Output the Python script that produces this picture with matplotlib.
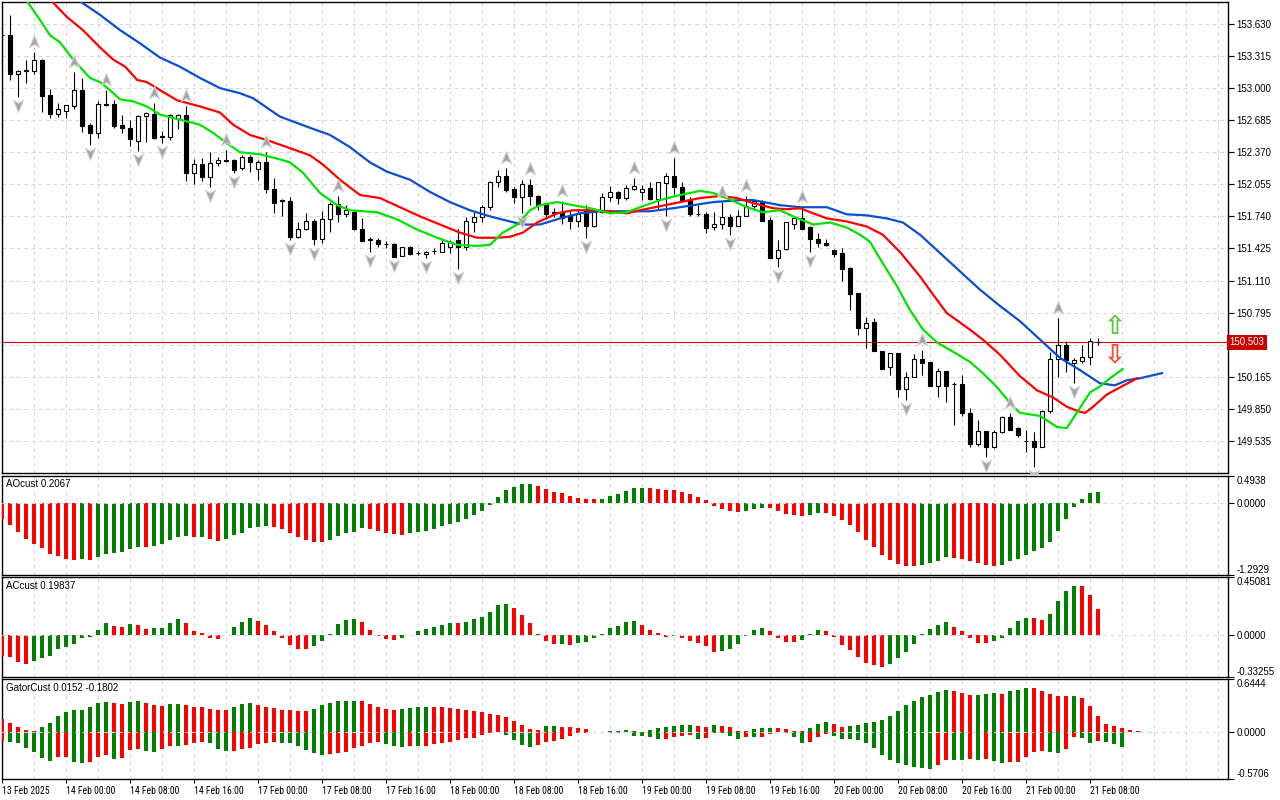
import numpy as np
import matplotlib.pyplot as plt
from matplotlib import font_manager
from matplotlib.path import Path
from matplotlib.transforms import offset_copy, blended_transform_factory

plt.rcParams['font.family'] = ['Liberation Sans', 'DejaVu Sans']

# ---- chart data (H1 bars, first one is partly hidden at the left edge) ----
first_bar = -1
opens = [153.52, 153.52, 153.14, 153.18, 153.17, 153.28, 152.93, 152.75, 152.78, 152.82,
         152.98, 152.64, 152.56, 152.84, 152.84, 152.64, 152.61, 152.48, 152.73, 152.75,
         152.53, 152.52, 152.70, 152.74, 152.17, 152.25, 152.13, 152.26, 152.29, 152.29,
         152.22, 152.32, 152.21, 152.27, 152.01, 151.90, 151.89, 151.54, 151.62, 151.69,
         151.52, 151.71, 151.86, 151.76, 151.78, 151.62, 151.51, 151.51, 151.47, 151.47,
         151.35, 151.44, 151.38, 151.37, 151.40, 151.39, 151.44, 151.51, 151.44, 151.68,
         151.73, 151.83, 152.08, 152.14, 152.01, 151.93, 152.05, 151.94, 151.86, 151.77,
         151.77, 151.74, 151.69, 151.80, 151.65, 151.78, 151.93, 151.98, 151.92, 152.01,
         151.98, 152.02, 151.91, 152.07, 152.14, 152.03, 151.90, 151.76, 151.76, 151.64,
         151.67, 151.73, 151.65, 151.74, 151.84, 151.89, 151.70, 151.33, 151.42, 151.67,
         151.72, 151.64, 151.52, 151.48, 151.41, 151.38, 151.23, 150.99, 150.64, 150.70,
         150.42, 150.26, 150.40, 150.04, 150.16, 150.34, 150.31, 150.07, 150.22, 150.09,
         150.09, 149.81, 149.50, 149.63, 149.47, 149.62, 149.77, 149.66, 149.53, 149.53,
         149.47, 149.83, 150.34, 150.48, 150.30, 150.32, 150.36, 150.51]
highs = [153.56, 153.72, 153.18, 153.28, 153.35, 153.29, 152.99, 152.85, 152.83, 153.16,
         153.10, 152.66, 152.87, 152.98, 152.88, 152.74, 152.69, 152.74, 152.77, 152.85,
         152.58, 152.75, 152.75, 152.82, 152.30, 152.31, 152.37, 152.32, 152.39, 152.30,
         152.34, 152.34, 152.29, 152.37, 152.12, 151.91, 151.93, 151.68, 151.77, 151.71,
         151.79, 151.88, 151.94, 151.85, 151.80, 151.72, 151.54, 151.53, 151.50, 151.48,
         151.44, 151.45, 151.40, 151.40, 151.43, 151.53, 151.51, 151.62, 151.73, 151.78,
         151.85, 152.09, 152.20, 152.22, 152.03, 152.10, 152.11, 151.95, 151.87, 151.82,
         151.89, 151.80, 151.80, 151.85, 151.82, 151.97, 152.04, 151.99, 152.05, 152.12,
         152.05, 152.08, 152.08, 152.17, 152.31, 152.08, 151.93, 151.85, 151.78, 151.78,
         151.88, 151.76, 151.80, 151.94, 151.90, 151.90, 151.73, 151.51, 151.68, 151.74,
         151.83, 151.65, 151.58, 151.52, 151.42, 151.43, 151.24, 150.99, 150.75, 150.74,
         150.42, 150.40, 150.40, 150.21, 150.39, 150.43, 150.31, 150.25, 150.22, 150.11,
         150.18, 149.86, 149.74, 149.63, 149.64, 149.78, 149.81, 149.67, 149.64, 149.62,
         149.84, 150.41, 150.74, 150.52, 150.35, 150.48, 150.55, 150.55]
lows = [153.47, 153.08, 152.91, 153.05, 153.14, 152.77, 152.71, 152.72, 152.71, 152.79,
        152.57, 152.44, 152.51, 152.82, 152.61, 152.56, 152.43, 152.38, 152.47, 152.50,
        152.46, 152.49, 152.60, 152.09, 152.06, 152.09, 152.03, 152.23, 152.27, 152.17,
        152.20, 152.18, 152.10, 151.97, 151.77, 151.74, 151.51, 151.53, 151.61, 151.46,
        151.48, 151.59, 151.68, 151.73, 151.61, 151.50, 151.39, 151.44, 151.43, 151.34,
        151.35, 151.36, 151.36, 151.33, 151.37, 151.39, 151.38, 151.22, 151.41, 151.59,
        151.68, 151.80, 152.03, 151.98, 151.87, 151.77, 151.85, 151.80, 151.71, 151.73,
        151.67, 151.62, 151.64, 151.53, 151.64, 151.77, 151.89, 151.86, 151.90, 152.00,
        151.90, 151.90, 151.80, 151.74, 151.96, 151.89, 151.74, 151.74, 151.58, 151.61,
        151.62, 151.56, 151.65, 151.74, 151.80, 151.69, 151.33, 151.24, 151.41, 151.62,
        151.62, 151.39, 151.44, 151.45, 151.34, 151.11, 150.82, 150.57, 150.45, 150.42,
        150.24, 150.18, 149.97, 149.94, 150.16, 150.18, 150.07, 149.97, 149.92, 149.69,
        149.78, 149.47, 149.48, 149.38, 149.46, 149.61, 149.64, 149.57, 149.43, 149.28,
        149.47, 149.81, 150.16, 150.21, 150.10, 150.30, 150.28, 150.48]
closes = [153.52, 153.14, 153.17, 153.17, 153.28, 152.92, 152.75, 152.79, 152.83, 152.98,
          152.63, 152.56, 152.84, 152.83, 152.63, 152.61, 152.50, 152.73, 152.76, 152.51,
          152.52, 152.74, 152.74, 152.17, 152.25, 152.13, 152.26, 152.29, 152.28, 152.20,
          152.32, 152.27, 152.27, 152.01, 151.87, 151.89, 151.54, 151.62, 151.69, 151.52,
          151.71, 151.86, 151.76, 151.80, 151.62, 151.50, 151.51, 151.47, 151.47, 151.34,
          151.44, 151.37, 151.38, 151.39, 151.40, 151.48, 151.49, 151.44, 151.69, 151.73,
          151.83, 152.08, 152.14, 152.00, 151.93, 152.06, 151.94, 151.85, 151.76, 151.78,
          151.72, 151.69, 151.76, 151.65, 151.78, 151.93, 151.98, 151.92, 152.02, 152.04,
          152.01, 151.91, 152.08, 152.14, 152.03, 151.90, 151.76, 151.76, 151.63, 151.67,
          151.73, 151.65, 151.74, 151.84, 151.89, 151.69, 151.33, 151.41, 151.68, 151.72,
          151.62, 151.52, 151.48, 151.46, 151.37, 151.22, 150.98, 150.64, 150.69, 150.42,
          150.24, 150.40, 150.04, 150.16, 150.34, 150.30, 150.07, 150.22, 150.07, 150.09,
          149.81, 149.50, 149.63, 149.47, 149.62, 149.77, 149.64, 149.59, 149.53, 149.47,
          149.83, 150.34, 150.48, 150.33, 150.33, 150.36, 150.52, 150.503]

# alligator lines (bar position, price), already shifted forward
jaw_at = [-1, 9.0, 11.25, 13.75, 16.25, 18.75, 21.25, 23.75, 26.25, 28.75, 30.4, 33.75, 37.5, 40,
          42.5, 45, 47.1, 50, 52.5, 55, 57.5, 60, 62.5, 64.1, 66.25, 68.75, 71.25, 73.75, 77.1,
          80, 82.9, 85.4, 87.9, 91.25, 92.9, 96.25, 98.75, 102.1, 104.6, 107.1, 109.6, 111.6,
          113.75, 116.25, 118.75, 121.25, 123.75, 126.25, 128.75, 131.25, 133.75, 136.25,
          138.1, 139.6, 141.25, 144]
jaw_val = [154.37, 153.84, 153.72, 153.57, 153.44, 153.30, 153.21, 153.10, 153.00, 152.95,
           152.90, 152.72, 152.61, 152.54, 152.42, 152.27, 152.18, 152.10, 151.98, 151.88,
           151.80, 151.74, 151.69, 151.66, 151.66, 151.72, 151.77, 151.79, 151.79, 151.79,
           151.82, 151.85, 151.88, 151.90, 151.90, 151.85, 151.83, 151.83, 151.76, 151.75,
           151.72, 151.68, 151.56, 151.38, 151.20, 151.02, 150.86, 150.71, 150.53, 150.35,
           150.23, 150.10, 150.08, 150.13, 150.15, 150.20]
teeth_at = [-1, 5.4, 7.1, 9.1, 11.25, 12.9, 14.4, 15.9, 17.1, 18.75, 20.9, 23.75, 26.25, 27.9,
            30, 32.1, 35, 37.5, 39.1, 41.25, 43.75, 46.25, 48.75, 51.25, 53.75, 56.25, 58.4,
            60.9, 62.5, 64.1, 65.9, 68.4, 70.4, 72.5, 74.6, 77.1, 78.75, 81.25, 83.75, 86.25,
            88.75, 90.9, 92.9, 95.4, 97.1, 98.75, 100.4, 102.1, 104.6, 107.1, 109.1, 111.25,
            113.75, 115.4, 117.1, 119.6, 121.6, 123.75, 126.25, 128.4, 130.4, 132.1, 133.75,
            134.4, 135.4, 137.1, 138.75, 140.9]
teeth_val = [154.32, 153.84, 153.70, 153.57, 153.40, 153.28, 153.21, 153.08, 153.06, 152.98,
             152.88, 152.82, 152.76, 152.64, 152.54, 152.49, 152.41, 152.34, 152.25, 152.10,
             151.95, 151.92, 151.83, 151.74, 151.66, 151.58, 151.53, 151.53, 151.54, 151.58,
             151.68, 151.77, 151.80, 151.80, 151.79, 151.77, 151.80, 151.84, 151.88, 151.92,
             151.94, 151.92, 151.87, 151.82, 151.81, 151.82, 151.77, 151.72, 151.69, 151.64,
             151.56, 151.39, 151.15, 150.97, 150.79, 150.65, 150.53, 150.38, 150.17, 150.03,
             149.96, 149.87, 149.82, 149.81, 149.87, 149.99, 150.06, 150.15]
lips_at = [-1, 2.25, 3.75, 5, 6.25, 7.9, 10, 11.25, 12.5, 13.75, 15.4, 17.1, 18.75, 21.25,
           23.75, 25.4, 27.1, 28.75, 31.25, 33.75, 35, 36.6, 38.75, 40.9, 42.5, 45.9, 48.4,
           50.9, 53.4, 55.9, 58.4, 60, 61.6, 63.4, 65, 66.25, 68.4, 70.4, 72.5, 75, 77.1,
           78.75, 81.25, 83.75, 86.25, 87.9, 89.6, 92.1, 94.1, 96.25, 97.9, 100.4, 102.5,
           104.6, 106.25, 107.5, 109.1, 110.9, 112.5, 114.1, 115.9, 117.9, 120, 121.6, 123.4,
           125.4, 126.25, 128.75, 130.9, 132.1, 133.75, 135, 136.25, 137.5, 139.1]
lips_val = [154.15, 153.84, 153.67, 153.52, 153.45, 153.28, 153.10, 153.06, 152.98, 152.89,
            152.87, 152.82, 152.74, 152.69, 152.64, 152.56, 152.46, 152.37, 152.35, 152.30,
            152.27, 152.17, 151.97, 151.85, 151.80, 151.78, 151.71, 151.61, 151.53, 151.46,
            151.45, 151.46, 151.58, 151.66, 151.80, 151.85, 151.88, 151.85, 151.82, 151.77,
            151.78, 151.83, 151.90, 151.95, 151.99, 151.97, 151.92, 151.83, 151.78, 151.80,
            151.74, 151.66, 151.68, 151.63, 151.56, 151.49, 151.28, 151.05, 150.82, 150.63,
            150.50, 150.41, 150.31, 150.20, 150.06, 149.87, 149.81, 149.78, 149.67, 149.66,
            149.86, 150.01, 150.07, 150.15, 150.24]

fractal_up = [3, 8, 12, 18, 22, 27, 32, 41, 62, 65, 69, 78, 83, 89, 92, 99, 114, 125, 131]
fractal_down = [1, 10, 16, 19, 25, 28, 35, 38, 45, 48, 52, 56, 64, 72, 82, 90, 96, 100,
                112, 122, 128, 133]

ao = [-0.285, -0.389, -0.510, -0.638, -0.741, -0.814, -0.905, -0.941, -0.996, -1.014, -1.010,
      -1.016, -0.971, -0.905, -0.903, -0.880, -0.832, -0.789, -0.792, -0.771, -0.741, -0.662,
      -0.607, -0.589, -0.610, -0.605, -0.650, -0.680, -0.638, -0.577, -0.528, -0.437, -0.425,
      -0.407, -0.425, -0.468, -0.534, -0.607, -0.662, -0.698, -0.700, -0.662, -0.589, -0.534,
      -0.510, -0.437, -0.468, -0.498, -0.540, -0.559, -0.577, -0.540, -0.516, -0.498, -0.468,
      -0.407, -0.376, -0.334, -0.285, -0.206, -0.134, -0.024, 0.121, 0.243, 0.304, 0.350,
      0.356, 0.316, 0.261, 0.213, 0.188, 0.134, 0.097, 0.079, 0.078, 0.080, 0.134, 0.170,
      0.225, 0.279, 0.281, 0.276, 0.261, 0.249, 0.247, 0.213, 0.170, 0.121, 0.067, -0.043,
      -0.103, -0.134, -0.152, -0.134, -0.103, -0.085, -0.087, -0.134, -0.194, -0.206, -0.231,
      -0.213, -0.176, -0.178, -0.231, -0.304, -0.395, -0.516, -0.662, -0.789, -0.923, -1.026,
      -1.087, -1.135, -1.137, -1.105, -1.069, -1.032, -0.971, -0.984, -0.996, -1.032, -1.075,
      -1.117, -1.123, -1.117, -1.044, -0.996, -0.923, -0.868, -0.814, -0.698, -0.498, -0.285,
      -0.073, 0.079, 0.188, 0.2067]
ac = [-0.173, -0.179, -0.218, -0.234, -0.208, -0.186, -0.168, -0.113, -0.100, -0.074, -0.026,
      -0.016, 0.037, 0.089, 0.066, 0.058, 0.081, 0.076, 0.045, 0.049, 0.051, 0.089, 0.123,
      0.089, 0.026, 0.011, -0.026, -0.034, -0.002, 0.058, 0.097, 0.129, 0.108, 0.074, 0.026,
      -0.026, -0.084, -0.113, -0.115, -0.089, -0.050, 0.003, 0.081, 0.116, 0.123, 0.097, 0.037,
      -0.011, -0.034, -0.042, -0.026, -0.003, 0.026, 0.042, 0.058, 0.074, 0.089, 0.088, 0.097,
      0.121, 0.137, 0.176, 0.229, 0.239, 0.208, 0.152, 0.089, 0.005, -0.050, -0.074, -0.073,
      -0.084, -0.066, -0.058, -0.026, 0.002, 0.050, 0.066, 0.097, 0.108, 0.074, 0.034, 0.008,
      -0.016, -0.015, -0.026, -0.050, -0.066, -0.089, -0.137, -0.129, -0.113, -0.074, -0.011,
      0.034, 0.050, 0.026, -0.026, -0.058, -0.060, -0.042, 0.001, 0.034, 0.026, -0.021, -0.081,
      -0.121, -0.179, -0.226, -0.242, -0.257, -0.234, -0.186, -0.137, -0.076, 0.002, 0.042,
      0.074, 0.097, 0.058, 0.026, -0.026, -0.066, -0.067, -0.050, -0.026, 0.050, 0.105, 0.129,
      0.127, 0.113, 0.160, 0.263, 0.341, 0.386, 0.385, 0.310, 0.19837]
gator_up = [0.163, 0.114, 0.065, 0.029, 0.016, 0.065, 0.114, 0.200, 0.249, 0.265, 0.269, 0.310,
            0.359, 0.371, 0.359, 0.346, 0.371, 0.383, 0.359, 0.326, 0.324, 0.346, 0.348, 0.326,
            0.310, 0.308, 0.285, 0.273, 0.271, 0.310, 0.346, 0.355, 0.334, 0.310, 0.297, 0.273,
            0.271, 0.261, 0.259, 0.285, 0.326, 0.359, 0.383, 0.384, 0.385, 0.380, 0.346, 0.310,
            0.285, 0.273, 0.285, 0.297, 0.310, 0.311, 0.308, 0.306, 0.297, 0.285, 0.273, 0.261,
            0.249, 0.224, 0.212, 0.187, 0.139, 0.090, 0.041, 0.029, 0.077, 0.078, 0.065, 0.064,
            0.053, 0.041, 0.003, 0.005, 0.012, 0.013, 0.029, 0.016, 0.004, 0.029, 0.053, 0.065,
            0.077, 0.090, 0.091, 0.077, 0.065, 0.090, 0.077, 0.065, 0.016, 0.015, 0.041, 0.053,
            0.054, 0.052, 0.041, 0.016, 0.008, 0.053, 0.102, 0.126, 0.102, 0.065, 0.077, 0.090,
            0.114, 0.126, 0.151, 0.200, 0.261, 0.334, 0.383, 0.432, 0.456, 0.493, 0.518, 0.505,
            0.481, 0.456, 0.458, 0.469, 0.481, 0.469, 0.505, 0.518, 0.542, 0.540, 0.505, 0.469,
            0.444, 0.442, 0.444, 0.420, 0.322, 0.200, 0.102, 0.077, 0.053, 0.024, 0.0152]
gator_dn = [-0.114, -0.126, -0.139, -0.200, -0.249, -0.322, -0.359, -0.310, -0.306, -0.367,
            -0.379, -0.371, -0.310, -0.285, -0.334, -0.322, -0.224, -0.212, -0.236, -0.249,
            -0.212, -0.175, -0.177, -0.163, -0.130, -0.122, -0.139, -0.212, -0.236, -0.234,
            -0.212, -0.190, -0.147, -0.140, -0.126, -0.139, -0.140, -0.175, -0.224, -0.261,
            -0.285, -0.273, -0.261, -0.249, -0.200, -0.175, -0.139, -0.126, -0.151, -0.175,
            -0.187, -0.175, -0.177, -0.175, -0.151, -0.139, -0.126, -0.102, -0.078, -0.076,
            -0.041, -0.012, -0.004, -0.041, -0.102, -0.163, -0.187, -0.163, -0.126, -0.114,
            -0.090, -0.053, -0.016, -0.012, -0.004, -0.002, -0.008, -0.006, -0.002, -0.053,
            -0.054, -0.065, -0.090, -0.082, -0.061, -0.053, -0.041, -0.082, -0.069, -0.008,
            -0.012, -0.053, -0.082, -0.065, -0.066, -0.064, -0.024, -0.002, -0.008, -0.065,
            -0.139, -0.126, -0.065, -0.024, -0.053, -0.090, -0.091, -0.102, -0.139, -0.200,
            -0.285, -0.346, -0.383, -0.407, -0.432, -0.444, -0.456, -0.407, -0.340, -0.342,
            -0.344, -0.334, -0.342, -0.334, -0.350, -0.383, -0.371, -0.369, -0.310, -0.249,
            -0.236, -0.249, -0.261, -0.212, -0.065, -0.077, -0.139, -0.114, -0.126, -0.151,
            -0.1802]

price_ticks = [149.535, 149.850, 150.165, 150.480, 150.795, 151.110, 151.425, 151.740,
               152.055, 152.370, 152.685, 153.000, 153.315, 153.630]
price_range = [149.219, 153.846]
ao_range = [-1.2929, 0.4938]
ac_range = [-0.33255, 0.45081]
gator_range = [-0.5706, 0.6444]

time_labels = ['13 Feb 2025', '14 Feb 00:00', '14 Feb 08:00', '14 Feb 16:00', '17 Feb 00:00',
               '17 Feb 08:00', '17 Feb 16:00', '18 Feb 00:00', '18 Feb 08:00', '18 Feb 16:00',
               '19 Feb 00:00', '19 Feb 08:00', '19 Feb 16:00', '20 Feb 00:00', '20 Feb 08:00',
               '20 Feb 16:00', '21 Feb 00:00', '21 Feb 08:00']
time_ticks = [-1, 7, 15, 23, 31, 39, 47, 55, 63, 71, 79, 87, 95, 103, 111, 119, 127, 135]

GREEN = '#008000'
RED = '#ff0000'
GRID = '#d6d6d6'
W, H = 1280, 800
XLIM = (-1.0, 152.25)
grid_bars = np.arange(3, 152, 4)

# a narrow face keeps the date labels apart like the terminal font does
fonts = {f.name for f in font_manager.fontManager.ttflist}
date_font, date_size = 'Liberation Sans', 6.3
for name in ['DejaVu Sans Condensed', 'Liberation Sans Narrow', 'Roboto Condensed',
             'Open Sans Condensed', 'Noto Sans Condensed']:
    if name in fonts:
        date_font, date_size = name, 7
        break


def rise_colors(vals, use_abs=False):
    v = np.abs(vals) if use_abs else np.asarray(vals, dtype=float)
    out = [RED]
    for i in range(1, len(v)):
        out.append(GREEN if v[i] > v[i - 1] else RED)
    return out


fig = plt.figure(figsize=(W / 100, H / 100), dpi=100)
fig.patch.set_facecolor('white')


def panel(top, bottom, ylim):
    a = fig.add_axes([2 / W, 1 - bottom / H, 1226 / W, (bottom - top) / H])
    a.set_xlim(*XLIM)
    a.set_ylim(*ylim)
    for s in a.spines.values():
        s.set_color('black')
        s.set_linewidth(1.0)
    a.yaxis.tick_right()
    a.tick_params(axis='y', direction='out', length=4, width=0.8, labelsize=7, pad=2,
                  colors='black')
    a.tick_params(axis='x', bottom=False, labelbottom=False)
    a.vlines(grid_bars, ylim[0], ylim[1], colors=GRID, linewidth=0.75,
             linestyles=(0, (3.5, 3.5)), zorder=1)
    return a


ax = panel(2, 473, price_range)
ax_ao = panel(476, 575, ao_range)
ax_ac = panel(577.3, 676.7, ac_range)
ax_g = panel(679.3, 778.7, gator_range)

# ---- main price panel ----
x = np.arange(first_bar, first_bar + len(opens))
o = np.array(opens)
h = np.array(highs)
lo = np.array(lows)
c = np.array(closes)

# the tick label under the last-price box is hidden, as in the terminal
ax.set_yticks(price_ticks)
ax.set_yticklabels(['' if abs(t - c[-1]) < 0.05 else f'{t:.3f}' for t in price_ticks])
ax.hlines(price_ticks, XLIM[0], XLIM[1], colors=GRID, linewidth=0.75,
          linestyles=(0, (3.5, 3.5)), zorder=1)

ax.axhline(c[-1], color='#e00000', linewidth=0.8, zorder=2.5)

ax.vlines(x, lo, h, colors='black', linewidth=0.8, zorder=3)
bull = c >= o
ax.bar(x, np.maximum(np.abs(c - o), 0.003), bottom=np.minimum(o, c), width=0.56,
       color=np.where(bull, 'white', 'black'), edgecolor='black', linewidth=0.8, zorder=4)

ax.plot(jaw_at, jaw_val, color='#0a4fd0', linewidth=1.6, zorder=5)
ax.plot(teeth_at, teeth_val, color='#ff0000', linewidth=1.6, zorder=5)
ax.plot(lips_at, lips_val, color='#00e400', linewidth=1.6, zorder=5)

up_arrow = Path([(0, 1), (0.72, -0.75), (0, -0.3), (-0.72, -0.75), (0, 1)],
                [Path.MOVETO, Path.LINETO, Path.LINETO, Path.LINETO, Path.CLOSEPOLY])
down_arrow = Path([(0, -1), (0.72, 0.75), (0, 0.3), (-0.72, 0.75), (0, -1)],
                  [Path.MOVETO, Path.LINETO, Path.LINETO, Path.LINETO, Path.CLOSEPOLY])
fu = np.array(fractal_up)
fd = np.array(fractal_down)
ax.plot(fu, h[fu - first_bar], linestyle='none', marker=up_arrow, markersize=10,
        markerfacecolor='#a4a4a4', markeredgecolor='#d2d2d2', markeredgewidth=0.8,
        transform=offset_copy(ax.transData, fig=fig, y=10, units='dots'), zorder=6)
ax.plot(fd, lo[fd - first_bar], linestyle='none', marker=down_arrow, markersize=10,
        markerfacecolor='#a4a4a4', markeredgecolor='#d2d2d2', markeredgewidth=0.8,
        transform=offset_copy(ax.transData, fig=fig, y=-8, units='dots'), zorder=6)

# buy / sell arrows next to the last bar
last_x = x[-1] + 2
ax.annotate('\u21e7', xy=(last_x, c[-1]), xytext=(0, 15), textcoords='offset pixels',
            ha='center', va='center', fontsize=19, fontweight='bold', color='#5cc840',
            family='DejaVu Sans', zorder=7)
ax.annotate('\u21e9', xy=(last_x, c[-1]), xytext=(0, -13), textcoords='offset pixels',
            ha='center', va='center', fontsize=19, fontweight='bold', color='#ff4a30',
            family='DejaVu Sans', zorder=7)

ax.text(1.0012, c[-1], f'{c[-1]:.3f}', transform=blended_transform_factory(ax.transAxes, ax.transData),
        ha='left', va='center', fontsize=7, color='white', clip_on=False, zorder=10,
        bbox=dict(boxstyle='square,pad=0.28', fc='#c80000', ec='none'))


# ---- indicator panels ----
def sub_labels(a, rng, fmt):
    a.set_yticks([rng[0], 0, rng[1]])
    a.set_yticklabels([fmt.format(rng[0]), '0.0000', fmt.format(rng[1])])
    labs = a.get_yticklabels()
    labs[0].set_va('bottom')
    labs[-1].set_va('top')
    a.axhline(0, color='#d8d8d8', linewidth=0.75, linestyle=(0, (3.5, 3.5)), zorder=4)


xa = np.arange(first_bar, first_bar + len(ao))
ax_ao.bar(xa, ao, width=0.62, color=rise_colors(ao), linewidth=0, zorder=3)
sub_labels(ax_ao, ao_range, '{:.4f}')
ax_ao.text(0.0035, 0.965, f'AOcust {ao[-1]:.4f}', transform=ax_ao.transAxes, ha='left',
           va='top', fontsize=7)

xc = np.arange(first_bar, first_bar + len(ac))
ax_ac.bar(xc, ac, width=0.62, color=rise_colors(ac), linewidth=0, zorder=3)
sub_labels(ax_ac, ac_range, '{:.5f}')
ax_ac.text(0.0035, 0.965, f'ACcust {ac[-1]:.5f}', transform=ax_ac.transAxes, ha='left',
           va='top', fontsize=7)

xgu = np.arange(first_bar, first_bar + len(gator_up))
xgd = np.arange(first_bar, first_bar + len(gator_dn))
ax_g.bar(xgu, gator_up, width=0.62, color=rise_colors(gator_up, True), linewidth=0, zorder=3)
ax_g.bar(xgd, gator_dn, width=0.62, color=rise_colors(gator_dn, True), linewidth=0, zorder=3)
sub_labels(ax_g, gator_range, '{:.4f}')
ax_g.text(0.0035, 0.965, f'GatorCust {gator_up[-1]:.4f} {gator_dn[-1]:.4f}',
          transform=ax_g.transAxes, ha='left', va='top', fontsize=7)

ax_g.set_xticks(time_ticks)
ax_g.set_xticklabels(time_labels, ha='left', fontsize=date_size, family=date_font)
ax_g.tick_params(axis='x', bottom=True, labelbottom=True, direction='out', length=3,
                 width=0.8, pad=2.5, colors='black')

fig.savefig('out.png', dpi=100, facecolor='white')
